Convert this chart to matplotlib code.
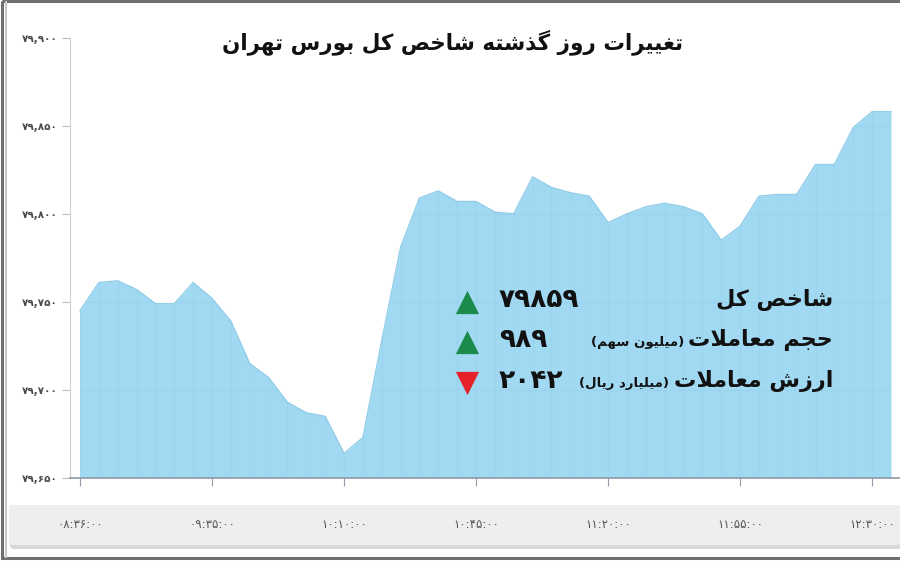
import matplotlib
matplotlib.use("Agg")
import matplotlib.pyplot as plt
from matplotlib.patches import FancyBboxPatch, Rectangle

# values, one point per 5 minutes
index_values = [79745, 79761, 79762, 79757, 79749, 79749, 79761, 79752, 79739, 79715,
                79707, 79693, 79687, 79685, 79664, 79673, 79728, 79781, 79809, 79813,
                79807, 79807, 79801, 79800, 79821, 79815, 79812, 79810, 79795, 79800,
                79804, 79806, 79804, 79800, 79785, 79793, 79810, 79811, 79811, 79828,
                79828, 79849, 79858, 79858]
time_labels = ["۰۸:۳۶:۰۰", "۰۹:۳۵:۰۰", "۱۰:۱۰:۰۰", "۱۰:۴۵:۰۰", "۱۱:۲۰:۰۰", "۱۱:۵۵:۰۰", "۱۲:۳۰:۰۰"]
label_step = 7
y_ticks = [79650, 79700, 79750, 79800, 79850, 79900]

title = "تغییرات روز گذشته شاخص کل بورس تهران"
info_labels = ["شاخص کل", "حجم معاملات", "ارزش معاملات"]
info_units = ["", "(میلیون سهم)", "(میلیارد ریال)"]
info_numbers = ["۷۹۸۵۹", "۹۸۹", "۲۰۴۲"]
info_up = [True, True, False]

# presentation forms: isolated, final, initial, medial
FORMS = {
    'ا': ('\uFE8D', '\uFE8E', None, None),
    'ب': ('\uFE8F', '\uFE90', '\uFE91', '\uFE92'),
    'ت': ('\uFE95', '\uFE96', '\uFE97', '\uFE98'),
    'ج': ('\uFE9D', '\uFE9E', '\uFE9F', '\uFEA0'),
    'ح': ('\uFEA1', '\uFEA2', '\uFEA3', '\uFEA4'),
    'خ': ('\uFEA5', '\uFEA6', '\uFEA7', '\uFEA8'),
    'د': ('\uFEA9', '\uFEAA', None, None),
    'ذ': ('\uFEAB', '\uFEAC', None, None),
    'ر': ('\uFEAD', '\uFEAE', None, None),
    'ز': ('\uFEAF', '\uFEB0', None, None),
    'س': ('\uFEB1', '\uFEB2', '\uFEB3', '\uFEB4'),
    'ش': ('\uFEB5', '\uFEB6', '\uFEB7', '\uFEB8'),
    'ص': ('\uFEB9', '\uFEBA', '\uFEBB', '\uFEBC'),
    'ع': ('\uFEC9', '\uFECA', '\uFECB', '\uFECC'),
    'غ': ('\uFECD', '\uFECE', '\uFECF', '\uFED0'),
    'ل': ('\uFEDD', '\uFEDE', '\uFEDF', '\uFEE0'),
    'م': ('\uFEE1', '\uFEE2', '\uFEE3', '\uFEE4'),
    'ن': ('\uFEE5', '\uFEE6', '\uFEE7', '\uFEE8'),
    'ه': ('\uFEE9', '\uFEEA', '\uFEEB', '\uFEEC'),
    'و': ('\uFEED', '\uFEEE', None, None),
    'ک': ('\uFB8E', '\uFB8F', '\uFB90', '\uFB91'),
    'گ': ('\uFB92', '\uFB93', '\uFB94', '\uFB95'),
    'ی': ('\uFBFC', '\uFBFD', '\uFBFE', '\uFBFF'),
}


def shape(text):
    # join letters and turn into visual (left to right) order
    out = []
    i = 0
    while i < len(text):
        c = text[i]
        if c not in FORMS:
            out.append(c)
            i += 1
            continue
        prev = text[i - 1] if i > 0 else ''
        join_prev = prev in FORMS and FORMS[prev][2] is not None
        if c == 'ل' and i + 1 < len(text) and text[i + 1] == 'ا':
            out.append('\uFEFC' if join_prev else '\uFEFB')
            i += 2
            continue
        nxt = text[i + 1] if i + 1 < len(text) else ''
        join_next = FORMS[c][2] is not None and nxt in FORMS
        iso, fin, ini, med = FORMS[c]
        if join_prev and join_next:
            out.append(med)
        elif join_prev:
            out.append(fin)
        elif join_next:
            out.append(ini)
        else:
            out.append(iso)
        i += 1
    return ''.join(out)[::-1].translate(str.maketrans('()', ')('))


def fa_digits(s):
    return s.translate(str.maketrans('0123456789', '۰۱۲۳۴۵۶۷۸۹'))


plt.rcParams['font.family'] = ['DejaVu Sans']

W, H = 900, 563
fig = plt.figure(figsize=(W / 100, H / 100), dpi=100)

# background in pixel coordinates
bg = fig.add_axes([0, 0, 1, 1], zorder=0)
bg.set_xlim(0, W)
bg.set_ylim(H, 0)
bg.axis('off')
bg.add_patch(FancyBboxPatch((10, 508), 892, 41, boxstyle='round,pad=0,rounding_size=4',
                            fc='#d8d8d8', ec='none'))
bg.add_patch(FancyBboxPatch((9, 505), 892, 40, boxstyle='round,pad=0,rounding_size=4',
                            fc='#eeeeee', ec='none'))
bg.add_patch(Rectangle((2, 1), W + 5, 557, fc='none', ec='#6f6f6f', lw=2.2))
bg.plot([6, 6], [2, 557], color='#c8c8c8', lw=1.5)

ax = fig.add_axes([70 / W, 1 - 478 / H, 830 / W, (478 - 37.7) / H], zorder=1)
ax.set_facecolor('none')
x = list(range(len(index_values)))
poly = ax.fill_between(x, index_values, y_ticks[0], color='#a2d9f2', lw=0, zorder=1)
ax.plot(x, index_values, color='#92cdea', lw=1, zorder=2)

# faint grid visible only inside the filled area
for xi in x:
    ln = ax.axvline(xi, color='#9cd5ef', lw=0.8, zorder=1.5)
    ln.set_clip_path(poly.get_paths()[0], ax.transData)
for yv in y_ticks[1:-1]:
    ln = ax.axhline(yv, color='#98d2ed', lw=0.8, zorder=1.5)
    ln.set_clip_path(poly.get_paths()[0], ax.transData)

ax.set_xlim(-0.53, len(index_values) - 1 + 0.48)
ax.set_ylim(y_ticks[0], y_ticks[-1])
ax.set_yticks(y_ticks)
ax.set_yticklabels([fa_digits(f"{v:,}") for v in y_ticks], fontweight='bold')
ax.set_xticks(x[::label_step])
ax.set_xticklabels(time_labels)

for side in ['top', 'right']:
    ax.spines[side].set_visible(False)
ax.spines['left'].set_color('#cfcfcf')
ax.spines['left'].set_bounds(y_ticks[0], y_ticks[-1])
ax.spines['bottom'].set_color('#8e9ba5')
ax.spines['bottom'].set_linewidth(1.2)
ax.tick_params(axis='y', length=6, width=0.8, color='#bbbbbb', pad=3,
               labelsize=7.5, labelcolor='#4a4a4a')
ax.tick_params(axis='x', length=6, width=0.8, color='#8e9ba5', pad=23,
               labelsize=8.5, labelcolor='#555555')

# overlay for the title and the summary block
top = fig.add_axes([0, 0, 1, 1], zorder=2)
top.set_xlim(0, W)
top.set_ylim(H, 0)
top.axis('off')

top.text(453, 42, shape(title), ha='center', va='center',
         fontsize=15.5, fontweight='bold', color='#111111')

rows_y = [300, 340, 381]
for lab, unit, num, up, yp in zip(info_labels, info_units, info_numbers, info_up, rows_y):
    t = top.text(833, yp, shape(lab), ha='right', va='center',
                 fontsize=16, fontweight='bold', color='#111111')
    if unit:
        top.annotate(shape(unit), xy=(0, 0.4), xycoords=t,
                     xytext=(-3, 0), textcoords='offset points',
                     ha='right', va='center', fontsize=9.5,
                     fontweight='bold', color='#111111')
    top.text(499, yp, num, ha='left', va='center',
             fontsize=19, fontweight='bold', color='#111111')
    top.scatter(467, yp + 2, marker='^' if up else 'v', s=280,
                color='#1a8b4c' if up else '#e6232a', lw=0)

fig.savefig('out.png', dpi=100)
